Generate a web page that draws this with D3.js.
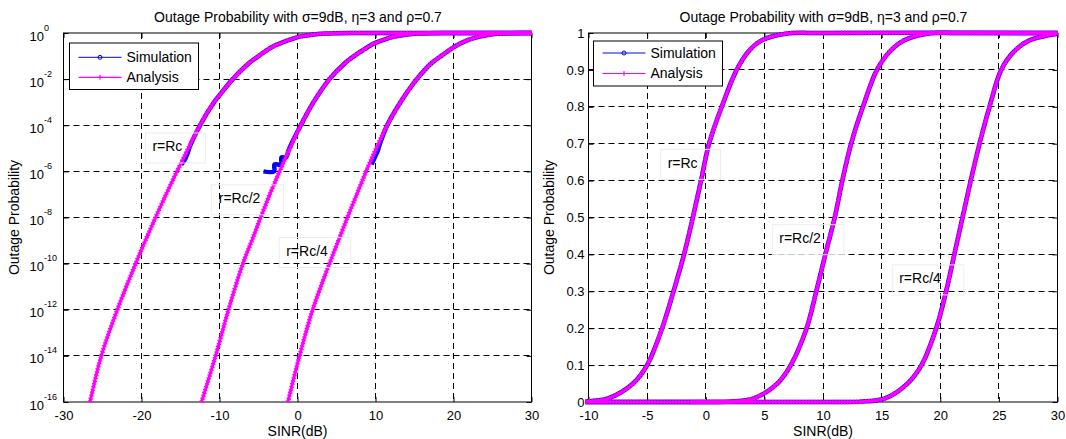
<!DOCTYPE html>
<html><head><meta charset="utf-8">
<script src="https://cdn.jsdelivr.net/npm/d3@7/dist/d3.min.js"></script>
<style>
body{margin:0;background:#fff;}
svg{display:block;font-family:"Liberation Sans",Arial,Helvetica,sans-serif;}
</style></head><body>
<svg id="chart" width="1066" height="439"></svg>
<script>
// ---------------- data ----------------
const titleText = "Outage Probability with σ=9dB, η=3 and ρ=0.7";
const xLabelText = "SINR(dB)";
const yLabelText = "Outage Probability";
const seriesNames = ["Simulation", "Analysis"];
const curveLabels = ["r=Rc", "r=Rc/2", "r=Rc/4"];

const sinrTicksLog = [-30, -20, -10, 0, 10, 20, 30];
const probExponentsLog = [0, -2, -4, -6, -8, -10, -12, -14, -16];
const sinrTicksLin = [-10, -5, 0, 5, 10, 15, 20, 25, 30];
const probTicksLin = [0, 0.1, 0.2, 0.3, 0.4, 0.5, 0.6, 0.7, 0.8, 0.9, 1];

// Analysis curves: [SINR dB, outage probability]
const analysisRc = [[-26.6,1e-16],[-25.15,1e-14],[-23.1,1e-12],[-20.75,1e-10],[-19.5,1e-9],[-18.2,1e-8],[-16.85,1e-7],[-15.45,1e-6],[-14.0,1e-5],[-12.5,1e-4],[-10.7,1e-3],[-10.0,0.002],[-8.3,0.01],[-6.2,0.05],[-5.0,0.1],[-3.72,0.2],[-2.75,0.3],[-1.85,0.4],[-1.1,0.5],[-0.4,0.6],[0.28,0.7],[1.36,0.8],[2.64,0.9],[3.64,0.95],[4.77,0.98],[6.8,0.998],[10,1],[30,1]];
const analysisRc2 = [[-12.3,1e-16],[-10.5,1e-14],[-8.85,1e-12],[-7.0,1e-10],[-5.85,1e-9],[-4.72,1e-8],[-3.55,1e-7],[-2.3,1e-6],[-0.98,1e-5],[0.42,1e-4],[2.05,1e-3],[4.1,0.01],[6.1,0.05],[7.25,0.1],[8.6,0.2],[9.43,0.3],[10.2,0.4],[11.0,0.5],[11.65,0.6],[12.4,0.7],[13.4,0.8],[14.6,0.9],[15.7,0.95],[16.9,0.98],[18.9,0.998],[22,1],[30,1]];
const analysisRc4 = [[-1.23,1e-16],[0.26,1e-14],[1.94,1e-12],[4.1,1e-10],[5.25,1e-9],[6.4,1e-8],[7.6,1e-7],[8.8,1e-6],[10.1,1e-5],[11.5,1e-4],[13.2,1e-3],[15.3,0.01],[17.2,0.05],[18.4,0.1],[19.66,0.2],[20.5,0.3],[21.2,0.4],[21.9,0.5],[22.6,0.6],[23.35,0.7],[24.2,0.8],[25.2,0.9],[26.3,0.95],[27.6,0.98],[30,0.998]];

// Simulation curves (zero below the 1e-6 resolution)
const simulationRc = [[-30,0],[-15.1,0],[-14.9,2e-6],[-14.5,3e-6],[-14.1,6e-6],[-13.8,1.2e-5],[-12.5,1e-4],[-10.7,1e-3],[-10.0,0.002],[-8.3,0.01],[-6.2,0.05],[-5.0,0.1],[-3.72,0.2],[-2.75,0.3],[-1.85,0.4],[-1.1,0.5],[-0.4,0.6],[0.28,0.7],[1.36,0.8],[2.64,0.9],[3.64,0.95],[4.77,0.98],[6.8,0.998],[10,1],[30,1]];
const simulationRc2 = [[-30,0],[-4.5,0],[-4.36,1e-6],[-3.0,1e-6],[-2.95,2e-6],[-2.1,2e-6],[-2.05,4e-6],[-1.5,4e-6],[-1.05,1e-5],[0.42,1e-4],[2.05,1e-3],[4.1,0.01],[6.1,0.05],[7.25,0.1],[8.6,0.2],[9.43,0.3],[10.2,0.4],[11.0,0.5],[11.65,0.6],[12.4,0.7],[13.4,0.8],[14.6,0.9],[15.7,0.95],[16.9,0.98],[18.9,0.998],[22,1],[30,1]];
const simulationRc4 = [[-30,0],[9.3,0],[9.5,2e-6],[9.9,4e-6],[10.3,8e-6],[10.45,1.2e-5],[11.5,1e-4],[13.2,1e-3],[15.3,0.01],[17.2,0.05],[18.4,0.1],[19.66,0.2],[20.5,0.3],[21.2,0.4],[21.9,0.5],[22.6,0.6],[23.35,0.7],[24.2,0.8],[25.2,0.9],[26.3,0.95],[27.6,0.98],[30,0.998]];

// Curve label anchors in data coordinates [SINR, probability]
const labelAnchorsLog = [[-18.6,1.2e-5],[-10.1,6.8e-8],[-1.45,3.5e-10]];
const labelAnchorsLin = [[-3.25,0.648],[6.27,0.444],[16.5,0.335]];

// ---------------- drawing ----------------
const svg = d3.select("#chart");
const BLUE = "#0000ff", MAGENTA = "#ff00ff";
const simulations = [simulationRc, simulationRc2, simulationRc4];
const analyses = [analysisRc, analysisRc2, analysisRc4];

const panels = [
  {id:"L", left:63.5, right:531.5, top:33, bottom:402, log:true, xDomain:[-30,30], xTicks:sinrTicksLog,
   legend:{x:69.5, y:43, w:129, h:46.5, e1:57.3, e2:77.3}, ylabX:14, anchors:labelAnchorsLog},
  {id:"R", left:588.5, right:1057.5, top:33, bottom:402, log:false, xDomain:[-10,30], xTicks:sinrTicksLin,
   legend:{x:593.5, y:41, w:129, h:45, e1:53, e2:73.5}, ylabX:549, anchors:labelAnchorsLin}
];

const snap = v => Math.round(v - 0.5) + 0.5;

panels.forEach(P => {
  const W = P.right - P.left, H = P.bottom - P.top;
  const x = d3.scaleLinear().domain(P.xDomain).range([P.left, P.right]);
  const y = P.log ? d3.scaleLog().domain([1e-16, 1]).range([P.bottom, P.top])
                  : d3.scaleLinear().domain([0, 1]).range([P.bottom, P.top]);
  const yTicks = P.log ? probExponentsLog.map(e => Math.pow(10, e)) : probTicksLin;

  const g = svg.append("g");

  // grid
  const grid = g.append("g").attr("stroke", "#000").attr("stroke-width", 1).attr("stroke-dasharray", "6,4");
  grid.selectAll("line.vx").data(P.xTicks.slice(1, -1)).join("line")
    .attr("x1", d => snap(x(d))).attr("x2", d => snap(x(d)))
    .attr("y1", P.top).attr("y2", P.bottom);
  grid.selectAll("line.hy").data(yTicks.filter(t => t !== y.domain()[0] && t !== y.domain()[1])).join("line")
    .attr("y1", d => snap(y(d))).attr("y2", d => snap(y(d)))
    .attr("x1", P.left).attr("x2", P.right);

  // box
  g.append("rect").attr("x", P.left).attr("y", P.top).attr("width", W).attr("height", H)
    .attr("fill", "none").attr("stroke", "#000").attr("stroke-width", 1);

  // axes
  const ax = g.append("g").attr("transform", `translate(0,${P.bottom})`)
    .call(d3.axisBottom(x).tickValues(P.xTicks).tickSizeInner(-5).tickSizeOuter(0).tickPadding(9).tickFormat(d => String(d)));
  const axTop = g.append("g").attr("transform", `translate(0,${P.top})`)
    .call(d3.axisTop(x).tickValues(P.xTicks).tickSizeInner(-5).tickSizeOuter(0).tickFormat(() => ""));
  const ay = g.append("g").attr("transform", `translate(${P.left},0)`)
    .call(d3.axisLeft(y).tickValues(yTicks).tickSizeInner(-5).tickSizeOuter(0).tickPadding(4).tickFormat(d => String(d)));
  const ayR = g.append("g").attr("transform", `translate(${P.right},0)`)
    .call(d3.axisRight(y).tickValues(yTicks).tickSizeInner(-5).tickSizeOuter(0).tickFormat(() => ""));
  [ax, axTop, ay, ayR].forEach(a => {
    a.select(".domain").remove();
    a.attr("font-family", null).attr("font-size", 13);
    a.selectAll("line").attr("stroke", "#000");
    a.selectAll("text").attr("fill", "#000");
  });
  if (P.log) {
    ay.selectAll(".tick text").each(function(d) {
      const t = d3.select(this);
      t.text(null).attr("text-anchor", "start").attr("x", 29.5 - P.left).attr("dy", null).attr("y", 7);
      t.append("tspan").text("10");
      t.append("tspan").attr("dy", -10).attr("font-size", 9).text(String(Math.round(Math.log10(d))));
    });
  }

  // titles
  g.append("text").attr("x", (P.left + P.right) / 2 + 0.5).attr("y", 22).attr("text-anchor", "middle")
    .attr("font-size", 14).text(titleText);
  g.append("text").attr("x", (P.left + P.right) / 2).attr("y", 436).attr("text-anchor", "middle")
    .attr("font-size", 14).text(xLabelText);
  g.append("text").attr("transform", `translate(${P.ylabX},${(P.top + P.bottom) / 2}) rotate(-90)`)
    .attr("text-anchor", "middle").attr("dy", "0.35em").attr("font-size", 14).text(yLabelText);

  // curves
  const clipId = "clip" + P.id;
  svg.append("clipPath").attr("id", clipId).append("rect")
    .attr("x", P.left - 3).attr("y", P.top - 3).attr("width", W + 6).attr("height", H + 6);
  const cg = g.append("g").attr("clip-path", `url(#${clipId})`).attr("fill", "none")
    .attr("stroke-linejoin", "round");
  const line = d3.line().defined(d => !P.log || d[1] > 0)
    .x(d => x(d[0])).y(d => y(P.log ? Math.max(d[1], 1e-16) : d[1])).curve(d3.curveCatmullRom.alpha(0.5));

  simulations.forEach(s => {
    cg.append("path").attr("d", line(s)).attr("stroke", BLUE).attr("stroke-width", 4.5);
  });
  analyses.forEach(a => {
    cg.append("path").attr("d", line(a)).attr("stroke", MAGENTA).attr("stroke-width", 3);
    cg.append("path").attr("d", line(a)).attr("stroke", MAGENTA).attr("stroke-width", 4.6)
      .attr("stroke-dasharray", "1.3,1.7");
  });

  // curve labels
  P.anchors.forEach((a, i) => {
    const tx = x(a[0]), ty = y(a[1]);
    const t = g.append("text").attr("x", tx).attr("y", ty).attr("dy", "0.35em")
      .attr("font-size", 14).text(curveLabels[i]);
    const tw = t.node().getComputedTextLength();
    g.insert("rect", () => t.node()).attr("x", tx - 7).attr("y", ty - 13.5)
      .attr("width", tw + 30).attr("height", 30)
      .attr("fill", "none").attr("stroke", "#ececec").attr("stroke-width", 1);
  });

  // legend
  const L = P.legend;
  const lg = g.append("g");
  lg.append("rect").attr("x", L.x).attr("y", L.y).attr("width", L.w).attr("height", L.h)
    .attr("fill", "#fff").attr("stroke", "#000").attr("stroke-width", 1);
  const lx1 = L.x + 9, lx2 = L.x + 52, lmx = (lx1 + lx2) / 2;
  lg.append("line").attr("x1", lx1).attr("x2", lx2).attr("y1", L.e1).attr("y2", L.e1)
    .attr("stroke", BLUE).attr("stroke-width", 1);
  lg.append("circle").attr("cx", lmx).attr("cy", L.e1).attr("r", 2)
    .attr("fill", "none").attr("stroke", BLUE).attr("stroke-width", 1);
  lg.append("line").attr("x1", lx1).attr("x2", lx2).attr("y1", L.e2).attr("y2", L.e2)
    .attr("stroke", MAGENTA).attr("stroke-width", 1.2);
  lg.append("path").attr("d", `M${lmx - 2.5},${L.e2}h5M${lmx},${L.e2 - 2.5}v5`)
    .attr("stroke", MAGENTA).attr("stroke-width", 1.2);
  lg.selectAll("text.leg").data(seriesNames).join("text")
    .attr("x", L.x + 57).attr("y", (d, i) => i === 0 ? L.e1 : L.e2).attr("dy", "0.35em")
    .attr("font-size", 14).text(d => d);
});
</script>
</body></html>
